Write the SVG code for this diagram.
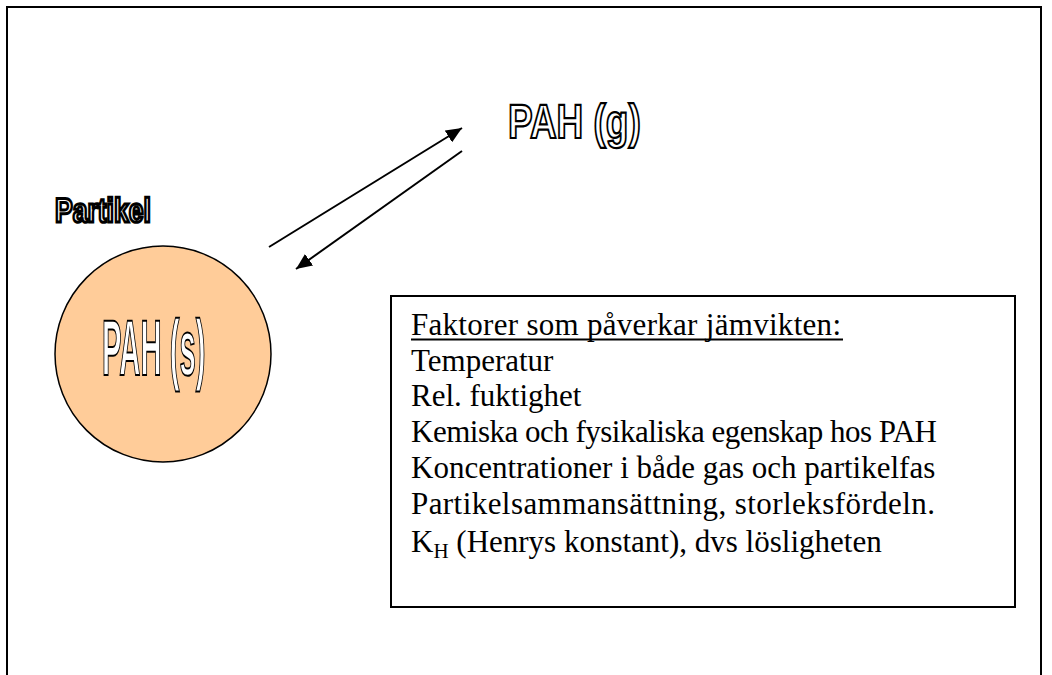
<svg xmlns="http://www.w3.org/2000/svg" width="1052" height="675" viewBox="0 0 1052 675">
<style>
.frame{fill:none;stroke:#000;stroke-width:2}
.wa{font-family:"Liberation Sans",Arial,sans-serif;font-weight:bold;fill:#fff;stroke:#000;vector-effect:non-scaling-stroke;text-rendering:geometricPrecision}
.conn{stroke:#000;stroke-width:2;fill:none}
.body{font-family:"Liberation Serif","Times New Roman",serif;font-size:31px;fill:#000}
</style>
<defs>
<marker id="ah" markerUnits="userSpaceOnUse" markerWidth="18" markerHeight="14" refX="16" refY="7" orient="auto">
<path d="M0,0 L16,7 L0,14 Z" fill="#000"/>
</marker>
</defs>
<path class="frame" d="M7,675 L7,7 L1041,7 L1041,675"/>
<g id="particle">
<circle cx="163" cy="354" r="108" fill="#FFCC99" stroke="#000" stroke-width="1.5"/>
<text class="wa" font-size="79" stroke-width="2" transform="translate(102,375) scale(0.37,1)">PAH (s)</text>
</g>
<g id="label-partikel">
<text class="wa" font-size="34" stroke-width="3" transform="translate(55,222) scale(0.78,1)">Partikel</text>
</g>
<g id="gas">
<text class="wa" font-size="48" stroke-width="2.2" transform="translate(508,138) scale(0.77,1)">PAH (g)</text>
</g>
<g id="connectors">
<line class="conn" x1="269" y1="247" x2="462" y2="128" marker-end="url(#ah)"/>
<line class="conn" x1="462" y1="151" x2="296" y2="269" marker-end="url(#ah)"/>
</g>
<g id="factors">
<rect x="391" y="296" width="624" height="311" fill="#fff" stroke="#000" stroke-width="2"/>
<text class="body" x="411" y="335" textLength="430" lengthAdjust="spacing">Faktorer som påverkar jämvikten:</text>
<line x1="411" y1="339.5" x2="843" y2="339.5" stroke="#000" stroke-width="1.8"/>
<text class="body" x="411" y="370.5">Temperatur</text>
<text class="body" x="411" y="406">Rel. fuktighet</text>
<text class="body" x="411" y="442" textLength="526" lengthAdjust="spacing">Kemiska och fysikaliska egenskap hos PAH</text>
<text class="body" x="411" y="478">Koncentrationer i både gas och partikelfas</text>
<text class="body" x="411" y="514" textLength="524" lengthAdjust="spacing">Partikelsammansättning, storleksfördeln.</text>
<text class="body" x="411" y="552">K<tspan font-size="21" dy="6">H</tspan><tspan dy="-6"> (Henrys konstant), dvs lösligheten</tspan></text>
</g>
</svg>
